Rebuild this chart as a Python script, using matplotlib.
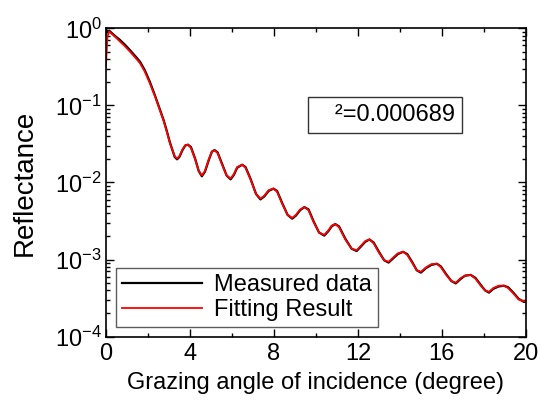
import matplotlib
matplotlib.use("Agg")
import matplotlib.pyplot as plt
import numpy as np
from matplotlib.ticker import LogLocator, MultipleLocator

plt.rcParams['font.family'] = ['Liberation Sans', 'DejaVu Sans']
plt.rcParams['mathtext.fontset'] = 'custom'
plt.rcParams['mathtext.rm'] = 'Liberation Sans'
plt.rcParams['mathtext.it'] = 'Liberation Sans:italic'

# angle (degree) and log10 of reflectance
angle = [0.0, 0.08, 0.16, 0.40, 0.67, 0.90, 1.14, 1.40, 1.62, 1.85, 2.09, 2.35, 2.57, 2.75,
         2.88, 3.05, 3.17, 3.28, 3.39, 3.50, 3.65, 3.78, 3.91, 4.05, 4.25, 4.42, 4.57, 4.72,
         4.90, 5.05, 5.18, 5.32, 5.55, 5.75, 5.94, 6.10, 6.25, 6.49, 6.65, 6.90, 7.15, 7.36,
         7.55, 7.75, 7.98, 8.15, 8.40, 8.65, 8.87, 9.05, 9.25, 9.45, 9.65, 9.90, 10.15, 10.40,
         10.60, 10.75, 10.92, 11.10, 11.40, 11.70, 11.94, 12.15, 12.35, 12.55, 12.75, 13.00,
         13.25, 13.46, 13.70, 13.90, 14.15, 14.35, 14.60, 14.80, 15.00, 15.25, 15.50, 15.76,
         15.95, 16.20, 16.45, 16.66, 16.90, 17.10, 17.37, 17.60, 17.85, 18.05, 18.24, 18.45,
         18.70, 18.95, 19.15, 19.40, 19.65, 19.90, 20.0]

fit_log = [-0.50, -0.10, -0.04, -0.10, -0.17, -0.23, -0.30, -0.38, -0.45, -0.56, -0.71, -0.89,
           -1.06, -1.20, -1.32, -1.49, -1.58, -1.66, -1.69, -1.66, -1.57, -1.52, -1.51, -1.55,
           -1.70, -1.85, -1.91, -1.85, -1.70, -1.60, -1.58, -1.62, -1.78, -1.91, -1.95, -1.89,
           -1.80, -1.77, -1.81, -1.97, -2.15, -2.21, -2.17, -2.10, -2.08, -2.12, -2.28, -2.42,
           -2.46, -2.42, -2.35, -2.32, -2.36, -2.52, -2.65, -2.68, -2.62, -2.56, -2.54, -2.58,
           -2.74, -2.86, -2.88, -2.82, -2.76, -2.74, -2.79, -2.91, -3.01, -3.03, -2.97, -2.92,
           -2.90, -2.94, -3.05, -3.14, -3.16, -3.10, -3.06, -3.055, -3.10, -3.20, -3.28, -3.30,
           -3.24, -3.21, -3.20, -3.25, -3.34, -3.40, -3.42, -3.37, -3.34, -3.34, -3.37, -3.44,
           -3.52, -3.54, -3.545]

meas_log = [-0.01, -0.05, -0.03, -0.09, -0.15, -0.21, -0.28, -0.36, -0.43, -0.54, -0.69, -0.88,
            -1.05, -1.19, -1.31, -1.48, -1.58, -1.67, -1.70, -1.67, -1.58, -1.52, -1.51, -1.54,
            -1.69, -1.85, -1.92, -1.86, -1.71, -1.60, -1.58, -1.61, -1.77, -1.91, -1.96, -1.90,
            -1.81, -1.77, -1.80, -1.96, -2.15, -2.22, -2.18, -2.11, -2.08, -2.11, -2.27, -2.42,
            -2.47, -2.43, -2.36, -2.32, -2.35, -2.51, -2.65, -2.69, -2.63, -2.57, -2.54, -2.57,
            -2.73, -2.86, -2.89, -2.83, -2.77, -2.74, -2.78, -2.90, -3.01, -3.04, -2.98, -2.93,
            -2.90, -2.93, -3.04, -3.14, -3.17, -3.11, -3.07, -3.055, -3.09, -3.19, -3.28, -3.31,
            -3.25, -3.21, -3.20, -3.24, -3.33, -3.40, -3.43, -3.38, -3.35, -3.34, -3.36, -3.43,
            -3.51, -3.55, -3.55]

chi2_text = "²=0.000689"

fig = plt.figure(figsize=(5.4, 4.05), dpi=100)
ax = fig.add_axes([0.196, 0.169, 0.778, 0.761])

ax.plot(angle, 10 ** np.array(meas_log), color='black', lw=1.6, label='Measured data')
ax.plot(angle, 10 ** np.array(fit_log), color='red', lw=1.3, label='Fitting Result')

ax.set_yscale('log')
ax.set_xlim(0, 20)
ax.set_ylim(1e-4, 1)
ax.xaxis.set_major_locator(MultipleLocator(4))
ax.xaxis.set_minor_locator(MultipleLocator(2))
ax.yaxis.set_major_locator(LogLocator(base=10, numticks=10))
ax.yaxis.set_minor_locator(LogLocator(base=10, subs=np.arange(2, 10), numticks=10))

ax.tick_params(which='both', direction='in', top=True, right=True, width=1.0)
ax.tick_params(which='major', length=6, labelsize=17)
ax.tick_params(which='minor', length=3)
ax.tick_params(axis='x', pad=5)
ax.tick_params(axis='y', pad=3)
for s in ax.spines.values():
    s.set_linewidth(1.2)

ax.set_xlabel('Grazing angle of incidence (degree)', fontsize=17, labelpad=5)
ax.set_ylabel('Reflectance', fontsize=20, labelpad=12)

leg = ax.legend(loc='lower left', bbox_to_anchor=(0.024, 0.03), fontsize=17, frameon=True,
                fancybox=False, handlelength=3.4, handletextpad=0.5, borderpad=0.25,
                labelspacing=0.15, borderaxespad=0)
leg.get_frame().set_edgecolor('#333333')
leg.get_frame().set_linewidth(1.0)

ax.text(0.665, 0.72, "   " + chi2_text, transform=ax.transAxes, fontsize=17,
        ha='center', va='center',
        bbox=dict(boxstyle='square,pad=0.3', fc='white', ec='#333333', lw=1.0))

fig.savefig('out.png', dpi=100)
